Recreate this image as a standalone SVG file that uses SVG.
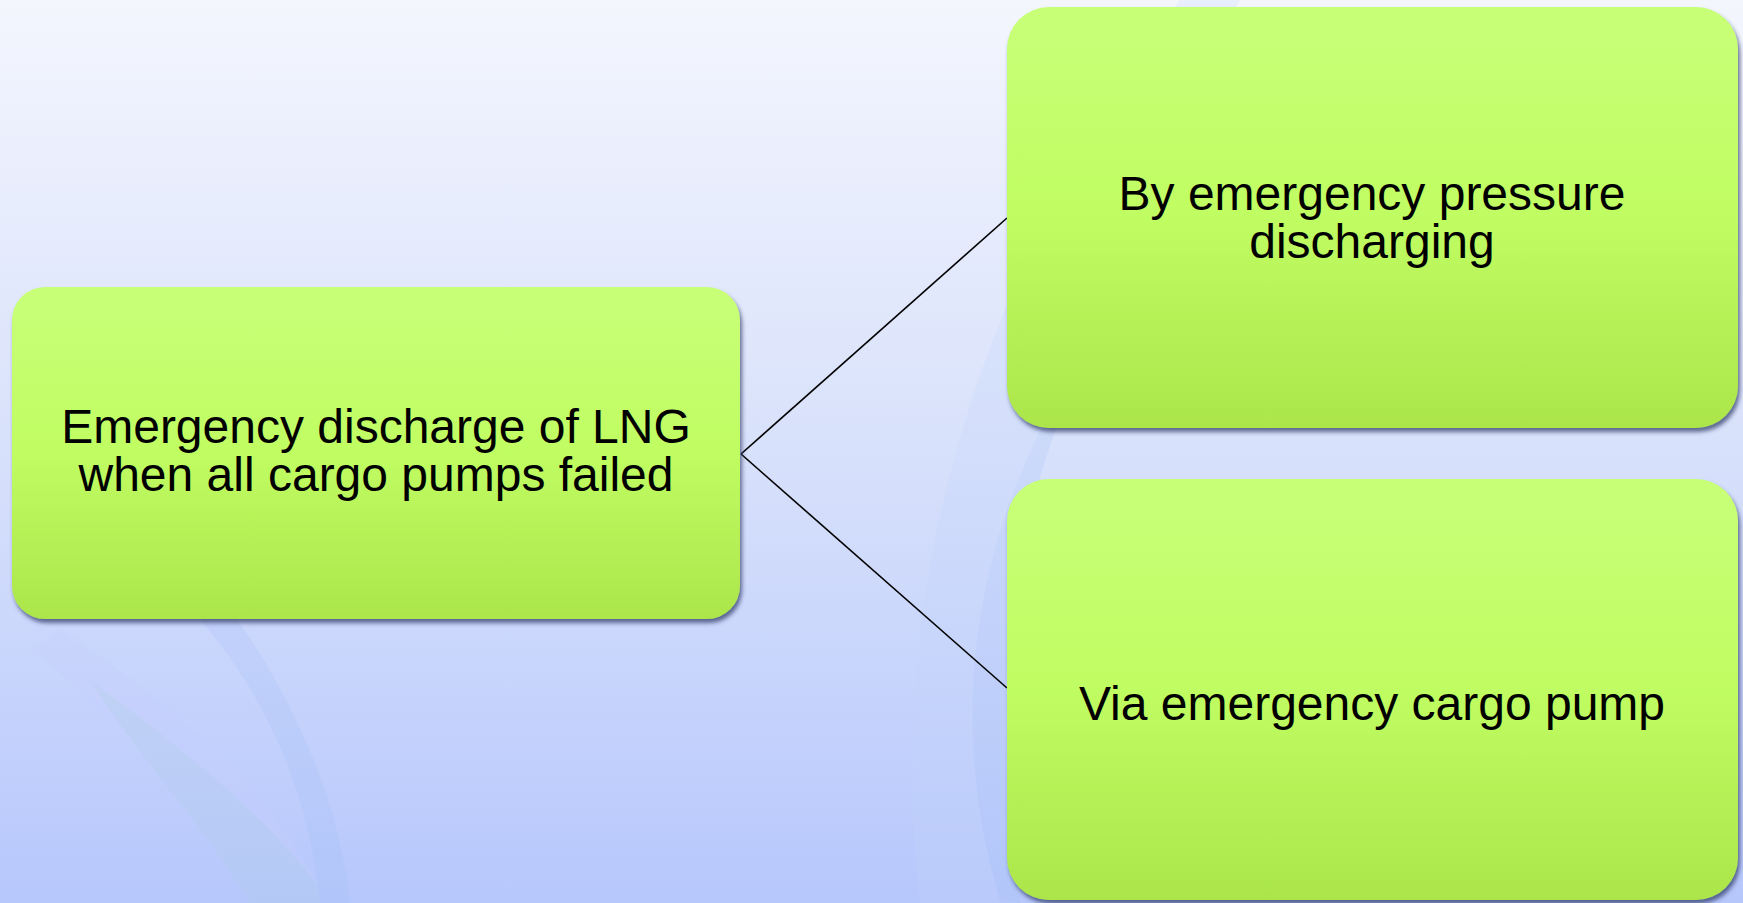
<svg xmlns="http://www.w3.org/2000/svg" width="1743" height="903" viewBox="0 0 1743 903">
  <defs>
    <linearGradient id="bg" x1="0" y1="0" x2="0" y2="1">
      <stop offset="0" stop-color="#f4f6fe"/>
      <stop offset="0.5" stop-color="#d8e1fb"/>
      <stop offset="1" stop-color="#b6c7fc"/>
    </linearGradient>
    <linearGradient id="box" x1="0" y1="0" x2="0" y2="1">
      <stop offset="0" stop-color="#c8ff78"/>
      <stop offset="0.5" stop-color="#c0fd62"/>
      <stop offset="1" stop-color="#abe54a"/>
    </linearGradient>
    <filter id="sh" x="-5%" y="-5%" width="110%" height="115%">
      <feGaussianBlur in="SourceAlpha" stdDeviation="2"/>
      <feOffset dx="2" dy="4" result="b"/>
      <feFlood flood-color="#34406c" flood-opacity="0.75"/>
      <feComposite in2="b" operator="in"/>
      <feMerge><feMergeNode/><feMergeNode in="SourceGraphic"/></feMerge>
    </filter>
    <style>
      .node rect { fill: url(#box); filter: url(#sh); }
      .node text { font-family: "Liberation Sans", Arial, sans-serif; font-size: 48px; fill: #000; text-anchor: middle; }
      .conn line { stroke: #000; stroke-width: 1.6; }
    </style>
  </defs>
  <rect width="1743" height="903" fill="url(#bg)"/>
  <g id="background-swooshes" opacity="0.25">
    <path d="M1180,0 C1000,250 880,550 920,903 L1000,903 C960,600 1050,300 1240,0 Z" fill="#c4d6fb"/>
    <path d="M1000,900 C940,700 980,500 1100,330 C1000,520 990,720 1020,903 Z" fill="#a9c4f8"/>
    <path d="M30,650 C120,720 200,800 260,903 L330,903 C260,780 170,700 60,630 Z" fill="#c8cfff"/>
    <path d="M90,680 C200,760 290,840 330,903 L250,903 C200,820 140,760 90,680 Z" fill="#b0cde6"/>
    <path d="M200,620 C270,700 310,800 320,903 L350,903 C340,800 290,690 230,610 Z" fill="#a6c2f8"/>
  </g>
  <g id="connectors" class="conn">
    <line x1="741" y1="454" x2="1007" y2="218"/>
    <line x1="741" y1="454" x2="1007" y2="688"/>
  </g>
  <g id="node-root" class="node">
    <rect x="12" y="287" width="728" height="332" rx="33" ry="33"/>
    <text x="376" y="443">Emergency discharge of LNG</text>
    <text x="376" y="491">when all cargo pumps failed</text>
  </g>
  <g id="node-pressure" class="node">
    <rect x="1007" y="7" width="731" height="421" rx="42" ry="42"/>
    <text x="1372" y="210">By emergency pressure</text>
    <text x="1372" y="258">discharging</text>
  </g>
  <g id="node-pump" class="node">
    <rect x="1007" y="479" width="731" height="421" rx="42" ry="42"/>
    <text x="1372" y="720">Via emergency cargo pump</text>
  </g>
</svg>
